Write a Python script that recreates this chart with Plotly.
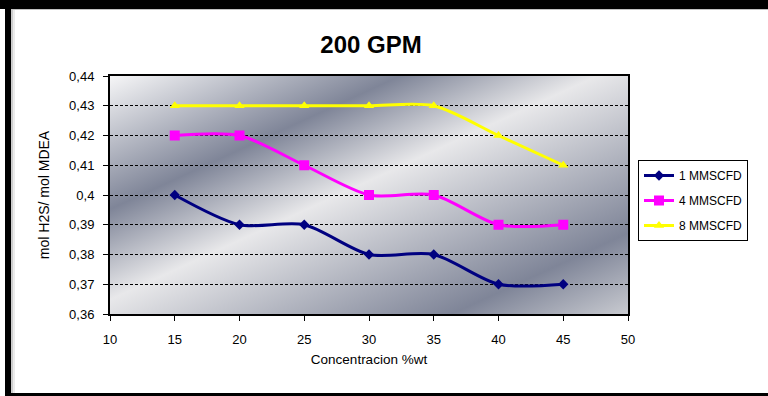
import base64
import plotly.graph_objects as go

# ---- data ----
concentracion = [15, 20, 25, 30, 35, 40, 45]
serie_1_mmscfd = [0.40, 0.39, 0.39, 0.38, 0.38, 0.37, 0.37]
serie_4_mmscfd = [0.42, 0.42, 0.41, 0.40, 0.40, 0.39, 0.39]
serie_8_mmscfd = [0.43, 0.43, 0.43, 0.43, 0.43, 0.42, 0.41]
y_tickvals = [0.36, 0.37, 0.38, 0.39, 0.40, 0.41, 0.42, 0.43, 0.44]
y_ticktext = ["0,36", "0,37", "0,38", "0,39", "0,4", "0,41", "0,42", "0,43", "0,44"]
x_tickvals = [10, 15, 20, 25, 30, 35, 40, 45, 50]

W, H = 768, 396
L, R, T, B = 110, 628, 76, 314  # plot area in pixels
FONT = "Liberation Sans, Arial, sans-serif"


def px(xp):
    return (xp - L) / (R - L)


def py(yp):
    return (B - yp) / (B - T)


fig = go.Figure()
fig.add_trace(go.Scatter(
    x=concentracion, y=serie_1_mmscfd, name="1 MMSCFD", legendgroup="a",
    mode="lines+markers", line=dict(color="#000080", width=3, shape="spline", smoothing=0.8),
    marker=dict(symbol="diamond", size=8, color="#000080")))
fig.add_trace(go.Scatter(
    x=concentracion, y=serie_4_mmscfd, name="4 MMSCFD", legendgroup="b",
    mode="lines+markers", line=dict(color="#FF00FF", width=3, shape="spline", smoothing=0.8),
    marker=dict(symbol="square", size=10, color="#FF00FF")))
fig.add_trace(go.Scatter(
    x=concentracion, y=serie_8_mmscfd, name="8 MMSCFD", legendgroup="c",
    mode="lines+markers", line=dict(color="#FFFF00", width=3, shape="spline", smoothing=0.8),
    marker=dict(symbol="triangle-up", size=9, color="#FFFF00")))

# gradient background of the plot area
svg = (
    '<svg xmlns="http://www.w3.org/2000/svg" width="518" height="238" viewBox="0 0 518 238" '
    'preserveAspectRatio="none"><defs><linearGradient id="g" x1="0" y1="0" x2="1" y2="1">'
    '<stop offset="0" stop-color="#f6f6f7"/>'
    '<stop offset="0.28" stop-color="#7f8598"/>'
    '<stop offset="0.47" stop-color="#e8e8ea"/>'
    '<stop offset="0.83" stop-color="#7f8598"/>'
    '<stop offset="1" stop-color="#c8cad0"/>'
    '</linearGradient></defs><rect width="518" height="238" fill="url(#g)"/></svg>'
)
src = "data:image/svg+xml;base64," + base64.b64encode(svg.encode()).decode()
fig.add_layout_image(dict(source=src, xref="paper", yref="paper", x=0, y=1, sizex=1, sizey=1,
                          sizing="stretch", layer="below", xanchor="left", yanchor="top"))

# outer frame
shapes = [
    dict(type="rect", x0=px(0), x1=px(W), y0=py(0), y1=py(9), fillcolor="black", line_width=0),
    dict(type="rect", x0=px(5), x1=px(11), y0=py(0), y1=py(H), fillcolor="black", line_width=0),
    dict(type="rect", x0=px(5), x1=px(W), y0=py(393), y1=py(H), fillcolor="black", line_width=0),
    dict(type="line", x0=px(12), x1=px(12), y0=py(9), y1=py(393), line=dict(color="#9a9a9a", width=1)),
    dict(type="line", x0=px(14), x1=px(14), y0=py(9), y1=py(393), line=dict(color="#d8d8d8", width=1)),
    dict(type="line", x0=px(11), x1=px(W), y0=py(9.5), y1=py(9.5), line=dict(color="#c0c0c0", width=1)),
]
for s in shapes:
    s.update(xref="paper", yref="paper", layer="above")
fig.update_layout(shapes=shapes)

fig.update_layout(
    width=W, height=H,
    margin=dict(l=L, r=W - R, t=T, b=H - B, pad=0),
    paper_bgcolor="white", plot_bgcolor="rgba(0,0,0,0)",
    font=dict(family=FONT, size=13, color="black"),
    title=dict(text="<b>200 GPM</b>", x=371 / W, xanchor="center", y=1 - 45 / H, yanchor="middle",
               font=dict(family=FONT, size=24, color="black")),
    showlegend=True,
    legend=dict(x=px(638), y=py(160), xanchor="left", yanchor="top",
                bordercolor="black", borderwidth=1, bgcolor="white", entrywidth=80,
                tracegroupgap=6, font=dict(family=FONT, size=12, color="black")),
    xaxis=dict(range=[10, 50], tickvals=x_tickvals, ticks="outside", ticklen=5, tickcolor="black",
               ticklabelstandoff=7, tickfont=dict(size=13),
               showline=True, linewidth=2, linecolor="black", mirror=True, showgrid=False,
               zeroline=False, title=dict(text="Concentracion %wt", standoff=9,
                                          font=dict(family=FONT, size=13.5))),
    yaxis=dict(range=[0.36, 0.44], tickvals=y_tickvals, ticktext=y_ticktext, ticks="outside",
               ticklen=5, tickcolor="black", ticklabelstandoff=6, tickfont=dict(size=13),
               showline=True, linewidth=2, linecolor="black",
               mirror=True, showgrid=True, gridcolor="black", gridwidth=1, griddash="3px,2px",
               zeroline=False, title=dict(text="mol H2S/ mol MDEA", standoff=16,
                                          font=dict(family=FONT, size=14))),
)

fig.write_html("out.html")
